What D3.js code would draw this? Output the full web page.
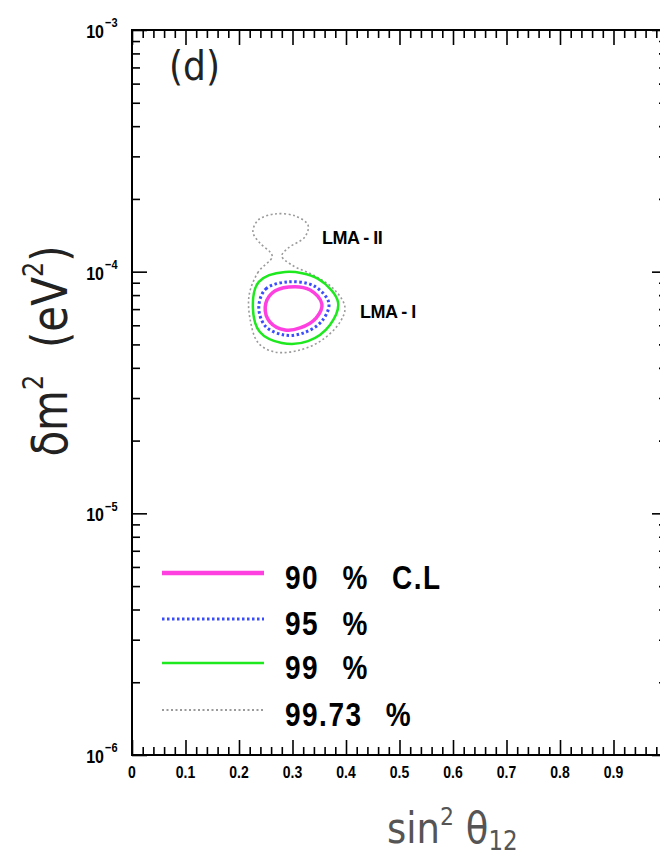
<!DOCTYPE html>
<html>
<head>
<meta charset="utf-8">
<script src="https://cdn.jsdelivr.net/npm/d3@7"></script>
<style>
  body { margin: 0; background: #fff; }
  svg { display: block; }
  text { white-space: pre; }
</style>
</head>
<body>
<div id="chart"></div>
<script>
// contour levels, each a closed curve in (sin^2 theta12, delta m^2 [eV^2])
const levels = ['90 % C.L', '95 %', '99 %', '99.73 %'];

const cl90 = [[0.249,7.14e-5],[0.262,8.16e-5],[0.293,8.64e-5],[0.333,8.40e-5],[0.355,7.35e-5],
              [0.344,6.43e-5],[0.314,5.85e-5],[0.286,5.74e-5],[0.258,6.19e-5]];
const cl95 = [[0.237,7.14e-5],[0.250,8.48e-5],[0.292,9.07e-5],[0.340,8.73e-5],[0.368,7.42e-5],
              [0.355,6.25e-5],[0.320,5.57e-5],[0.284,5.47e-5],[0.249,5.96e-5]];
const cl99 = [[0.226,7.07e-5],[0.237,9.07e-5],[0.286,9.97e-5],[0.348,9.33e-5],[0.385,7.49e-5],
              [0.370,6.02e-5],[0.329,5.16e-5],[0.280,5.07e-5],[0.239,5.63e-5]];
const cl9973 = [[0.262,1.150e-4],[0.236,9.97e-5],[0.219,8.01e-5],[0.221,6.31e-5],[0.236,5.07e-5],
                [0.267,4.65e-5],[0.314,4.74e-5],[0.355,5.21e-5],[0.389,6.19e-5],[0.398,7.14e-5],
                [0.379,8.40e-5],[0.342,9.60e-5],[0.299,1.065e-4],[0.280,1.161e-4],[0.292,1.253e-4],
                [0.323,1.391e-4],[0.329,1.560e-4],[0.305,1.700e-4],[0.267,1.733e-4],[0.236,1.636e-4],
                [0.226,1.459e-4],[0.239,1.314e-4],[0.258,1.206e-4]];

const regionLabels = [
  {name: 'LMA - II', s: 0.355, dm: 1.30e-4},
  {name: 'LMA - I',  s: 0.426, dm: 6.45e-5}
];

const xMajor = [0, 0.1, 0.2, 0.3, 0.4, 0.5, 0.6, 0.7, 0.8, 0.9];
const xTickLabels = ['0', '0.1', '0.2', '0.3', '0.4', '0.5', '0.6', '0.7', '0.8', '0.9'];
const yDecades = [1e-6, 1e-5, 1e-4, 1e-3];
const yExponents = ['-6', '-5', '-4', '-3'];

const W = 660, H = 860;
const mLeft = 132, mRight = 667, mTop = 30, mBottom = 755;

const svg = d3.select('#chart').append('svg')
    .attr('width', W).attr('height', H)
    .attr('font-family', 'Liberation Sans, Arial, sans-serif');
svg.append('rect').attr('width', W).attr('height', H).attr('fill', '#fff');

const x = d3.scaleLinear().domain([0, 1]).range([mLeft, mRight]);
const y = d3.scaleLog().domain([1e-6, 1e-3]).range([mBottom, mTop]);

// minor ticks
const xMinor = d3.range(0, 1.0001, 0.02).filter(v => Math.abs(v * 10 - Math.round(v * 10)) > 1e-6);
const yMinor = [];
yDecades.slice(0, 3).forEach(d => { for (let k = 2; k <= 9; k++) yMinor.push(d * k); });

const axes = svg.append('g').attr('class', 'axes');
const addAxis = (axisFn, scale, vals, size, tf) => {
  const g = axes.append('g').attr('transform', tf)
    .call(axisFn(scale).tickValues(vals).tickSize(size).tickFormat(''));
  g.select('.domain').remove();
  g.selectAll('.tick line').attr('stroke', '#000').attr('stroke-width', 1.6);
};
addAxis(d3.axisBottom, x, xMajor.concat([1]), -15, `translate(0,${mBottom})`);
addAxis(d3.axisBottom, x, xMinor, -8, `translate(0,${mBottom})`);
addAxis(d3.axisTop, x, xMajor.concat([1]), -15, `translate(0,${mTop})`);
addAxis(d3.axisTop, x, xMinor, -8, `translate(0,${mTop})`);
addAxis(d3.axisLeft, y, yDecades, -15, `translate(${mLeft},0)`);
addAxis(d3.axisLeft, y, yMinor, -8, `translate(${mLeft},0)`);
addAxis(d3.axisRight, y, yDecades, -15, `translate(${mRight},0)`);
addAxis(d3.axisRight, y, yMinor, -8, `translate(${mRight},0)`);

axes.append('rect')
  .attr('x', mLeft).attr('y', mTop)
  .attr('width', mRight - mLeft).attr('height', mBottom - mTop)
  .attr('fill', 'none').attr('stroke', '#000').attr('stroke-width', 2);

// x tick labels
svg.append('g').selectAll('text').data(xMajor).enter()
  .append('text')
  .attr('transform', d => `translate(${x(d)},${mBottom + 23}) scale(1,1.15)`)
  .attr('text-anchor', 'middle')
  .attr('font-weight', 'bold')
  .attr('font-size', 14)
  .text((d, i) => xTickLabels[i]);

// y tick labels: 10^n
const yl = svg.append('g').selectAll('g').data(yDecades).enter()
  .append('g')
  .attr('transform', d => `translate(104,${y(d) + 8}) scale(1,1.2)`);
yl.append('text')
  .attr('text-anchor', 'end')
  .attr('font-weight', 'bold')
  .attr('font-size', 16)
  .text('10');
yl.append('text')
  .attr('x', 1).attr('y', -9)
  .attr('font-weight', 'bold')
  .attr('font-size', 11)
  .text((d, i) => yExponents[i].replace('-', '\u2212'));

// contours
const line = d3.line()
  .x(d => x(d[0]))
  .y(d => y(d[1]))
  .curve(d3.curveCatmullRomClosed.alpha(0.5));

const styles = [
  {color: '#ff40e0', width: 3.5, dash: null, legendWidth: 4.5},
  {color: '#3a4cff', width: 3, dash: '2.5,2.5', legendWidth: 3},
  {color: '#1ee81e', width: 2.5, dash: null, legendWidth: 2.5},
  {color: '#9a9a9a', width: 1.6, dash: '2,2.5', legendWidth: 2}
];
const curves = [cl9973, cl99, cl95, cl90];
const curveStyles = [styles[3], styles[2], styles[1], styles[0]];

svg.append('g').selectAll('path').data(curves).enter()
  .append('path')
  .attr('d', line)
  .attr('fill', 'none')
  .attr('stroke', (d, i) => curveStyles[i].color)
  .attr('stroke-width', (d, i) => curveStyles[i].width)
  .attr('stroke-dasharray', (d, i) => curveStyles[i].dash);

svg.append('g').selectAll('text').data(regionLabels).enter()
  .append('text')
  .attr('x', d => x(d.s))
  .attr('y', d => y(d.dm))
  .attr('font-weight', 'bold')
  .attr('font-size', 18)
  .attr('letter-spacing', '-0.5')
  .text(d => d.name);

// legend
const legendY = [573, 619, 663, 710];
const leg = svg.append('g').selectAll('g').data(levels).enter()
  .append('g')
  .attr('transform', (d, i) => `translate(0,${legendY[i]})`);
leg.append('line')
  .attr('x1', 162).attr('x2', 264)
  .attr('stroke', (d, i) => styles[i].color)
  .attr('stroke-width', (d, i) => styles[i].legendWidth)
  .attr('stroke-dasharray', (d, i) => styles[i].dash);
leg.append('text')
  .attr('transform', 'translate(285,16) scale(1,1.2)')
  .attr('font-weight', 'bold')
  .attr('font-size', 28)
  .attr('letter-spacing', 1.5)
  .attr('word-spacing', 14)
  .text(d => d);

// panel tag
svg.append('text')
  .attr('transform', 'translate(169,80) scale(1,1.15)')
  .attr('font-family', 'DejaVu Sans, sans-serif')
  .attr('font-size', 36)
  .attr('fill', '#222')
  .text('(d)');

// x-axis title
const xt = svg.append('text')
  .attr('transform', 'translate(387,843) scale(1,1.15)')
  .attr('font-family', 'DejaVu Sans, sans-serif')
  .attr('font-size', 37)
  .attr('fill', '#555');
xt.append('tspan').text('sin');
xt.append('tspan').attr('font-size', 22).attr('dy', -16).text('2');
xt.append('tspan').attr('dy', 16).text(' \u03b8');
xt.append('tspan').attr('font-size', 23).attr('dy', 6).text('12');

// y-axis title
const yt = svg.append('text')
  .attr('transform', 'translate(67,351) rotate(-90) scale(1,1.2)')
  .attr('text-anchor', 'middle')
  .attr('font-family', 'DejaVu Sans, sans-serif')
  .attr('font-size', 42)
  .attr('fill', '#222');
yt.append('tspan').text('\u03b4m');
yt.append('tspan').attr('font-size', 24).attr('dy', -20).text('2');
yt.append('tspan').attr('dy', 20).text('  (eV');
yt.append('tspan').attr('font-size', 24).attr('dy', -20).text('2');
yt.append('tspan').attr('dy', 20).text(')');
</script>
</body>
</html>
